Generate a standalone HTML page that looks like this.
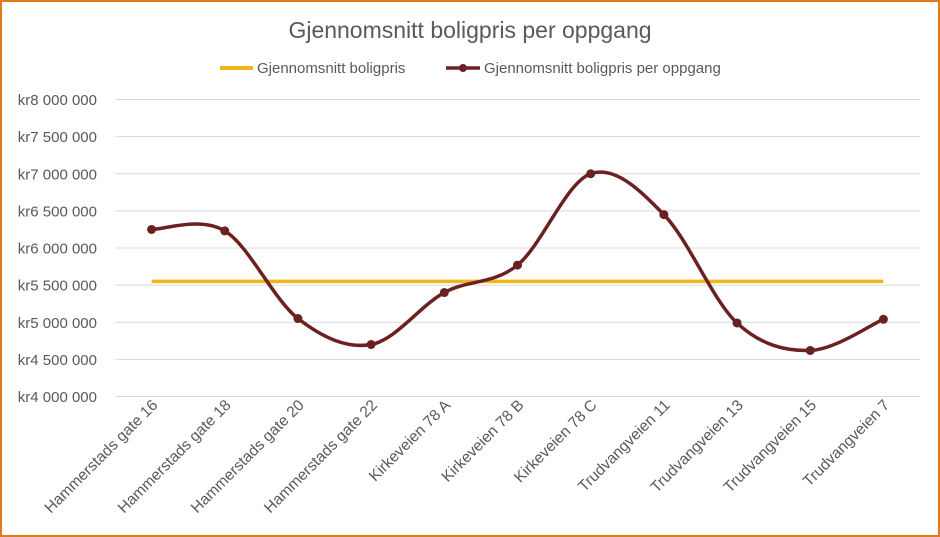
<!DOCTYPE html>
<html><head><meta charset="utf-8"><style>
body{margin:0;background:#fff}
svg{display:block;font-family:"Liberation Sans",sans-serif}
</style></head><body>
<svg id="c" width="940" height="537">
<rect x="1" y="1" width="938" height="535" fill="#fff" stroke="#e07b1a" stroke-width="2"/>
<text x="470" y="38" text-anchor="middle" font-size="23" fill="#595959">Gjennomsnitt boligpris per oppgang</text>
<g>
<line x1="220" y1="68" x2="253" y2="68" stroke="#f2b517" stroke-width="4"/>
<text x="257" y="73" font-size="15" fill="#595959">Gjennomsnitt boligpris</text>
<line x1="446" y1="68" x2="480" y2="68" stroke="#6b2121" stroke-width="3.5"/>
<circle cx="463" cy="68" r="4" fill="#6b2121"/>
<text x="484" y="73" font-size="15" fill="#595959">Gjennomsnitt boligpris per oppgang</text>
</g>
<g id="grid"></g><g id="ylab"></g><g id="xlab"></g><g id="series"></g>
</svg>
<script>
const categories=["Hammerstads gate 16","Hammerstads gate 18","Hammerstads gate 20","Hammerstads gate 22","Kirkeveien 78 A","Kirkeveien 78 B","Kirkeveien 78 C","Trudvangveien 11","Trudvangveien 13","Trudvangveien 15","Trudvangveien 7"];
const perEntrance=[6250000,6230000,5050000,4700000,5400000,5770000,7000000,6450000,4990000,4620000,5040000];
const average=[5550000,5550000,5550000,5550000,5550000,5550000,5550000,5550000,5550000,5550000,5550000];
const yTicks=[4000000,4500000,5000000,5500000,6000000,6500000,7000000,7500000,8000000];
const yTickLabels=["kr4 000 000","kr4 500 000","kr5 000 000","kr5 500 000","kr6 000 000","kr6 500 000","kr7 000 000","kr7 500 000","kr8 000 000"];
const NS="http://www.w3.org/2000/svg";
const L=115,R=920,T=99.5,B=396.5,ymin=4000000,ymax=8000000;
const step=(R-L)/categories.length;
const x=i=>L+step*(i+0.5);
const y=v=>B-(v-ymin)/(ymax-ymin)*(B-T);
function mk(t,a,p){const e=document.createElementNS(NS,t);for(const k in a)e.setAttribute(k,a[k]);p.appendChild(e);return e;}
const g=document.getElementById('grid'),yl=document.getElementById('ylab'),xl=document.getElementById('xlab'),s=document.getElementById('series');
yTicks.forEach((v,i)=>{
 const ln=mk('line',{x1:L,x2:R,y1:y(v),y2:y(v),stroke:'#d9d9d9','stroke-width':1},g);
 
 
 const t=mk('text',{x:97,y:y(v)+5.5,'text-anchor':'end','font-size':15,fill:'#595959'},yl);
 t.textContent=yTickLabels[i];
 
 
});
categories.forEach((c,i)=>{
 const t=mk('text',{transform:`translate(${x(i)+7},${406}) rotate(-45)`,'text-anchor':'end','font-size':15.5,fill:'#595959'},xl);
 t.textContent=c;
 
 
});
const al=mk('line',{x1:x(0),x2:x(average.length-1),y1:y(average[0]),y2:y(average[average.length-1]),stroke:'#f2b517','stroke-width':3.5},s);


const P=perEntrance.map((v,i)=>[x(i),y(v)]);
let d=`M${P[0][0]},${P[0][1]}`;const k=1/6;
for(let i=0;i<P.length-1;i++){
 const p0=P[Math.max(i-1,0)],p1=P[i],p2=P[i+1],p3=P[Math.min(i+2,P.length-1)];
 d+=` C${p1[0]+(p2[0]-p0[0])*k},${p1[1]+(p2[1]-p0[1])*k} ${p2[0]-(p3[0]-p1[0])*k},${p2[1]-(p3[1]-p1[1])*k} ${p2[0]},${p2[1]}`;
}
const pl=mk('path',{d:d,fill:'none',stroke:'#6b2121','stroke-width':3.5},s);


P.forEach(p=>{
 const c=mk('circle',{cx:p[0],cy:p[1],r:4.5,fill:'#6b2121'},s);
 
 
});
</script>
</body></html>
